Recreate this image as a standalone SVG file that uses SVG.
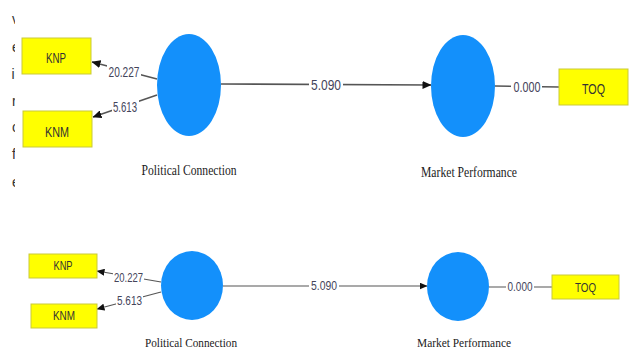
<svg xmlns="http://www.w3.org/2000/svg" width="636" height="351" viewBox="0 0 636 351">
<style>
.ell{fill:#1390fb}
.box{fill:#ffff00;stroke:#c9c93a;stroke-width:1}
.ln{stroke:#555;stroke-width:1.6;fill:none}
.ln2{stroke:#555;stroke-width:1.2;fill:none}
.num{font-family:"Liberation Sans",Arial,sans-serif;fill:#44445a;text-anchor:middle}
.lab{font-family:"Liberation Sans",Arial,sans-serif;fill:#333;text-anchor:middle}
.cap{font-family:"Liberation Serif","Times New Roman",serif;fill:#222;text-anchor:middle}
.frag{font-family:"Liberation Sans",Arial,sans-serif;fill:#333;font-size:14px}
.bg{fill:#fff}
</style>
<defs>
<marker id="ah" markerWidth="9" markerHeight="8" refX="8.5" refY="4" orient="auto" markerUnits="userSpaceOnUse">
<path d="M0,0 L9,4 L0,8 Z" fill="#111"/>
</marker>
<marker id="ah2" markerWidth="8" markerHeight="7" refX="7.5" refY="3.5" orient="auto" markerUnits="userSpaceOnUse">
<path d="M0,0 L8,3.5 L0,7 Z" fill="#111"/>
</marker>
<clipPath id="fc"><rect x="0" y="0" width="15" height="200"/></clipPath>
</defs>
<rect width="636" height="351" fill="#fff"/>
<g id="fragments" clip-path="url(#fc)">
<text class="frag" x="12" y="24">v</text>
<text class="frag" x="12" y="52">e</text>
<text class="frag" x="11.5" y="79">i</text>
<text class="frag" x="12" y="106">r</text>
<text class="frag" x="12" y="132">c</text>
<text class="frag" x="12" y="159">f</text>
<text class="frag" x="12" y="187">e</text>
</g>
<g id="connectors">
<line class="ln" x1="157" y1="79" x2="92" y2="62" marker-end="url(#ah)"/>
<line class="ln" x1="157" y1="95" x2="93" y2="117" marker-end="url(#ah)"/>
<line class="ln" x1="221" y1="84" x2="431" y2="85" marker-end="url(#ah)"/>
<line class="ln" x1="495" y1="86" x2="559" y2="87"/>
<line class="ln2" x1="161" y1="282" x2="97" y2="271" marker-end="url(#ah2)"/>
<line class="ln2" x1="161" y1="292" x2="97" y2="309" marker-end="url(#ah2)"/>
<line class="ln2" x1="223" y1="286" x2="427" y2="286" marker-end="url(#ah2)"/>
<line class="ln2" x1="489" y1="287" x2="552" y2="287"/>
<rect class="bg" x="107" y="63" width="34" height="15"/>
<text class="num" x="124" y="77" font-size="15" textLength="31" lengthAdjust="spacingAndGlyphs">20.227</text>
<rect class="bg" x="112" y="98" width="27" height="15"/>
<text class="num" x="125" y="111.5" font-size="15" textLength="24" lengthAdjust="spacingAndGlyphs">5.613</text>
<rect class="bg" x="309" y="78" width="34" height="14"/>
<text class="num" x="326" y="90" font-size="15" textLength="30" lengthAdjust="spacingAndGlyphs">5.090</text>
<rect class="bg" x="511" y="80" width="31" height="14"/>
<text class="num" x="527" y="92" font-size="15" textLength="27" lengthAdjust="spacingAndGlyphs">0.000</text>
<rect class="bg" x="113" y="271" width="31" height="12"/>
<text class="num" x="128.5" y="281.5" font-size="12" textLength="29" lengthAdjust="spacingAndGlyphs">20.227</text>
<rect class="bg" x="116" y="294" width="27" height="12"/>
<text class="num" x="129.5" y="304.5" font-size="12" textLength="25" lengthAdjust="spacingAndGlyphs">5.613</text>
<rect class="bg" x="309" y="280" width="30" height="12"/>
<text class="num" x="324" y="290" font-size="12" textLength="26" lengthAdjust="spacingAndGlyphs">5.090</text>
<rect class="bg" x="506" y="281" width="28" height="12"/>
<text class="num" x="520" y="291" font-size="12" textLength="25" lengthAdjust="spacingAndGlyphs">0.000</text>
</g>
<g id="knp-top">
<rect class="box" x="22" y="38" width="69" height="36"/>
<text class="lab" x="56" y="63" font-size="15" textLength="20" lengthAdjust="spacingAndGlyphs">KNP</text>
</g>
<g id="knm-top">
<rect class="box" x="23" y="111" width="69" height="36"/>
<text class="lab" x="57" y="136.5" font-size="15" textLength="24" lengthAdjust="spacingAndGlyphs">KNM</text>
</g>
<g id="political-top">
<ellipse class="ell" cx="189" cy="85" rx="32" ry="51"/>
<text class="cap" x="189" y="175" font-size="14" textLength="95" lengthAdjust="spacingAndGlyphs">Political Connection</text>
</g>
<g id="market-top">
<ellipse class="ell" cx="463" cy="86" rx="32" ry="51"/>
<text class="cap" x="469" y="177" font-size="14" textLength="96" lengthAdjust="spacingAndGlyphs">Market Performance</text>
</g>
<g id="toq-top">
<rect class="box" x="559" y="69" width="69" height="36"/>
<text class="lab" x="593.5" y="94" font-size="15" textLength="23" lengthAdjust="spacingAndGlyphs">TOQ</text>
</g>
<g id="knp-bottom">
<rect class="box" x="29" y="254" width="68" height="24"/>
<text class="lab" x="63" y="270" font-size="12" textLength="19" lengthAdjust="spacingAndGlyphs">KNP</text>
</g>
<g id="knm-bottom">
<rect class="box" x="31" y="304" width="66" height="24"/>
<text class="lab" x="64" y="320" font-size="12" textLength="22" lengthAdjust="spacingAndGlyphs">KNM</text>
</g>
<g id="political-bottom">
<ellipse class="ell" cx="192" cy="285.5" rx="31" ry="34.5"/>
<text class="cap" x="191" y="347" font-size="12.5" textLength="92" lengthAdjust="spacingAndGlyphs">Political Connection</text>
</g>
<g id="market-bottom">
<ellipse class="ell" cx="458" cy="286.5" rx="31" ry="34.5"/>
<text class="cap" x="464" y="347" font-size="12.5" textLength="94" lengthAdjust="spacingAndGlyphs">Market Performance</text>
</g>
<g id="toq-bottom">
<rect class="box" x="552" y="275" width="67" height="24"/>
<text class="lab" x="585.5" y="291.5" font-size="12" textLength="21" lengthAdjust="spacingAndGlyphs">TOQ</text>
</g>
</svg>
